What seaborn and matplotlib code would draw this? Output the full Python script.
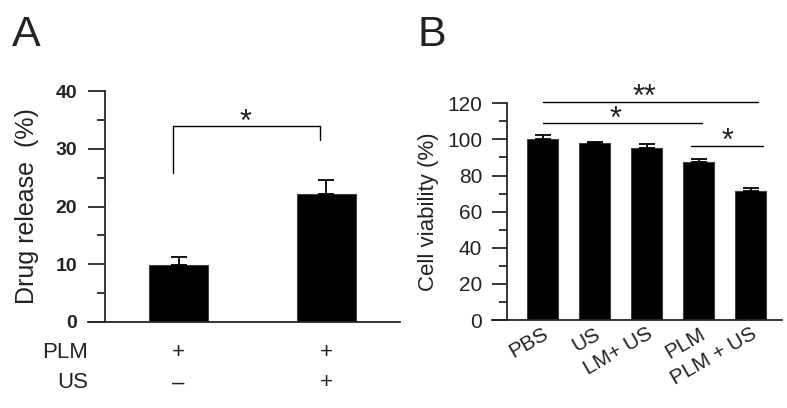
import matplotlib
matplotlib.use("Agg")
import matplotlib.pyplot as plt
import matplotlib.transforms as mtransforms
from matplotlib.ticker import MultipleLocator
import seaborn as sns
import pandas as pd

sns.set_style("ticks")
plt.rcParams['font.family'] = ['Liberation Sans', 'DejaVu Sans']

# panel A: drug release
release_groups = ["PLM", "PLM + US"]
release_mean = [9.9, 22.2]
release_err = [1.4, 2.4]
plm_row = ["+", "+"]
us_row = ["\u2013", "+"]

# panel B: cell viability
viab_groups = ["PBS", "US", "LM+ US", "PLM", "PLM + US"]
viab_mean = [100.0, 97.9, 95.4, 87.3, 71.4]
viab_err = [2.4, 0.9, 2.1, 1.9, 1.7]

fig = plt.figure(figsize=(7.87, 4.08), dpi=100)
axA = fig.add_axes([88/787, 86/408, 312/787, 231/408])
axB = fig.add_axes([492/787, 88/408, 290/787, 216.7/408])

lw = 1.3
txt = "#222222"

# ---- A ----
dfA = pd.DataFrame({"group": release_groups, "value": release_mean})
sns.barplot(data=dfA, x="group", y="value", color="black", width=0.4,
            edgecolor="0.25", linewidth=0.8, ax=axA)
axA.errorbar(range(len(release_mean)), release_mean,
             yerr=[[0]*len(release_err), release_err], fmt="none",
             ecolor="black", elinewidth=lw, capsize=6, capthick=lw)
axA.set_xlim(-0.614, 1.5)
axA.set_ylim(0, 40)
axA.spines["left"].set_position(("data", -0.5))
axA.yaxis.set_major_locator(MultipleLocator(10))
axA.yaxis.set_minor_locator(MultipleLocator(5))
axA.tick_params(axis="y", which="major", length=12, width=lw, labelsize=14,
                pad=8, labelcolor=txt)
axA.tick_params(axis="y", which="minor", length=6, width=lw)
for t in axA.get_yticklabels():
    t.set_fontweight("bold")
axA.set_xticks([])
axA.set_xlabel("")
axA.set_ylabel("Drug release  (%)", fontsize=18, labelpad=12, color=txt)
for s in ["top", "right"]:
    axA.spines[s].set_visible(False)
for s in ["left", "bottom"]:
    axA.spines[s].set_linewidth(lw)

# bracket
axA.plot([-0.04, -0.04, 0.96, 0.96], [25.8, 33.9, 33.9, 31.5],
         color="black", lw=1.0, clip_on=False)
axA.text(0.45, 31.8, "*", ha="center", va="bottom", fontsize=22, color=txt)

trA = mtransforms.blended_transform_factory(axA.transData, fig.transFigure)
fig.text(88/787, 1 - 352/408, "PLM", ha="right", va="center", fontsize=16,
         color=txt)
fig.text(88/787, 1 - 383/408, "US", ha="right", va="center", fontsize=16,
         color=txt)
for i in range(len(release_groups)):
    axA.text(i, 1 - 352/408, plm_row[i], transform=trA, ha="center",
             va="center", fontsize=16, color=txt)
    axA.text(i, 1 - 383/408, us_row[i], transform=trA, ha="center",
             va="center", fontsize=16, color=txt)

# ---- B ----
dfB = pd.DataFrame({"group": viab_groups, "value": viab_mean})
sns.barplot(data=dfB, x="group", y="value", color="black", width=0.6,
            edgecolor="0.25", linewidth=0.8, ax=axB)
axB.errorbar(range(len(viab_mean)), viab_mean,
             yerr=[[0]*len(viab_err), viab_err], fmt="none",
             ecolor="black", elinewidth=lw, capsize=5.5, capthick=lw)
axB.set_xlim(-0.97, 4.6)
axB.set_ylim(0, 120)
axB.spines["left"].set_position(("data", -0.68))
axB.yaxis.set_major_locator(MultipleLocator(20))
axB.yaxis.set_minor_locator(MultipleLocator(10))
axB.tick_params(axis="y", which="major", length=11, width=lw, labelsize=15,
                pad=7, labelcolor=txt)
axB.tick_params(axis="y", which="minor", length=6, width=lw)
axB.tick_params(axis="x", length=0, labelsize=15, pad=3, labelcolor=txt)
axB.set_xticks(range(len(viab_groups)))
axB.set_xticklabels(viab_groups, rotation=30, ha="right",
                    rotation_mode="anchor")
axB.set_xlabel("")
axB.set_ylabel("Cell viability (%)", fontsize=16, labelpad=6, color=txt)
for s in ["top", "right"]:
    axB.spines[s].set_visible(False)
for s in ["left", "bottom"]:
    axB.spines[s].set_linewidth(lw)

axB.plot([0, 4.14], [120.9, 120.9], color="black", lw=1.0, clip_on=False)
axB.plot([0, 3.06], [108.9, 108.9], color="black", lw=1.0, clip_on=False)
axB.plot([2.85, 4.23], [96.4, 96.4], color="black", lw=1.0, clip_on=False)
axB.text(1.95, 114.5, "**", ha="center", va="bottom", fontsize=22, color=txt)
axB.text(1.41, 102.5, "*", ha="center", va="bottom", fontsize=22, color=txt)
axB.text(3.55, 90.2, "*", ha="center", va="bottom", fontsize=22, color=txt)

fig.text(12/787, 1 - 46/408, "A", fontsize=31, ha="left", va="baseline",
         color=txt)
fig.text(418/787, 1 - 46/408, "B", fontsize=31, ha="left", va="baseline",
         color=txt)

fig.savefig("out.png", dpi=100)
